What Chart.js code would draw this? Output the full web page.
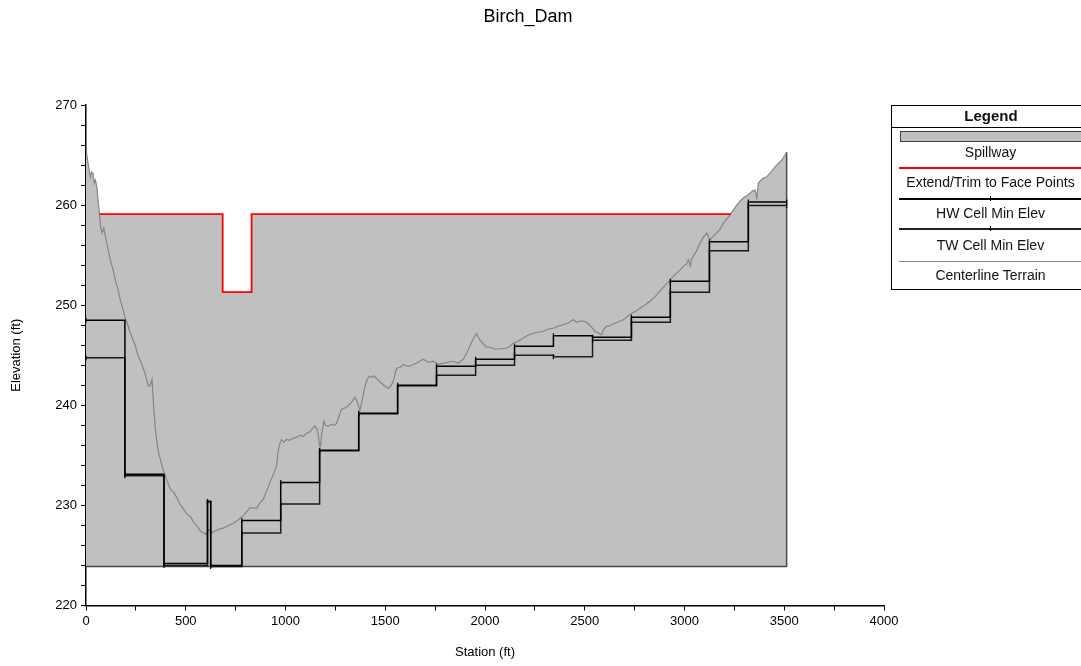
<!DOCTYPE html>
<html>
<head>
<meta charset="utf-8">
<script src="https://cdn.jsdelivr.net/npm/chart.js@4.4.1/dist/chart.umd.min.js"></script>
<style>
  html, body { margin: 0; padding: 0; background: #fff; overflow: hidden; }
  body { width: 1081px; height: 666px; position: relative; font-family: "Liberation Sans", Arial, sans-serif; }
  #c { position: absolute; left: 0; top: 0; }
  #title { position: absolute; left: 0; width: 1056px; top: 6px; text-align: center; font-size: 18px; color: #000; }
  #legend { position: absolute; left: 891px; top: 105px; width: 200px; height: 185px; border: 1px solid #000; box-sizing: border-box; background: #fff; color: #111; }
  #legend .hdr { position: absolute; left: 0; right: 0; top: 0; height: 21px; border-bottom: 1px solid #000; text-align: center; font-weight: bold; font-size: 15px; line-height: 20px; }
  #legend .txt { position: absolute; left: -20px; width: 237px; text-align: center; font-size: 14px; line-height: 16px; white-space: nowrap; }
  #legend .ln { position: absolute; left: 7px; right: -10px; }
  #legend .tick { position: absolute; left: 98px; width: 1px; height: 5px; background: #000; }
</style>
</head>
<body>
<canvas id="c" width="1081" height="666"></canvas>
<div id="title">Birch_Dam</div>
<div id="legend">
  <div class="hdr">Legend</div>
  <div class="ln" style="top:25px;height:9px;background:#c0c0c0;border:1.5px solid #404040;left:8px;"></div>
  <div class="txt" style="top:38px;">Spillway</div>
  <div class="ln" style="top:61px;height:2px;background:#ff0000;"></div>
  <div class="txt" style="top:68px;">Extend/Trim to Face Points</div>
  <div class="ln" style="top:92px;height:1.5px;background:#000;"></div>
  <div class="tick" style="top:90px;"></div>
  <div class="txt" style="top:99px;">HW Cell Min Elev</div>
  <div class="ln" style="top:122px;height:1.5px;background:#222;"></div>
  <div class="tick" style="top:120px;"></div>
  <div class="txt" style="top:131px;">TW Cell Min Elev</div>
  <div class="ln" style="top:155px;height:1px;background:#888;"></div>
  <div class="txt" style="top:161px;">Centerline Terrain</div>
</div>
<script>
// ---------- DATA ----------
const xTicksMajor = [0, 500, 1000, 1500, 2000, 2500, 3000, 3500, 4000];
const yTicksMajor = [220, 230, 240, 250, 260, 270];

// Centerline terrain (station ft, elevation ft)
const terrainX = [0,2,8,15,22,28,35,41,47,55,60,64,72,80,89,97,110,122,135,147,160,172,185,197,210,222,235,248,260,273,285,298,306,314,322,331,339,348,356,364,378,390,405,423,440,456,472,490,507,523,540,557,575,590,600,615,628,640,665,690,715,741,760,774,790,807,821,841,855,866,888,905,921,938,955,963,972,980,992,1005,1020,1038,1055,1072,1090,1105,1118,1130,1147,1156,1164,1170,1175,1182,1192,1200,1214,1230,1245,1256,1270,1281,1295,1314,1330,1348,1358,1373,1385,1398,1410,1420,1432,1443,1460,1481,1500,1515,1528,1540,1550,1557,1575,1590,1615,1640,1665,1690,1715,1740,1765,1790,1815,1840,1865,1891,1908,1924,1940,1958,1975,1991,2008,2025,2050,2075,2108,2125,2141,2165,2191,2215,2242,2265,2292,2315,2342,2365,2392,2415,2442,2460,2476,2495,2510,2530,2551,2570,2585,2595,2610,2625,2643,2665,2693,2715,2735,2755,2777,2800,2827,2850,2877,2900,2927,2950,2977,3000,3010,3019,3029,3035,3044,3060,3078,3095,3111,3120,3128,3140,3161,3178,3195,3212,3228,3245,3262,3278,3295,3310,3328,3340,3354,3362,3370,3395,3410,3429,3445,3462,3487,3504,3512];
const terrainY = [265.6,265.3,264.5,263.6,262.8,263.3,263.2,262.2,262.5,261.8,260.5,259.85,258.0,257.2,257.7,256.9,255.6,254.5,253.6,252.5,251.6,250.5,249.6,248.7,248.0,247.2,246.6,245.9,245.0,244.4,243.8,243.05,242.4,241.9,242.0,242.6,239.9,237.6,236.3,235.2,234.2,233.4,232.5,231.6,231.3,230.75,230.1,229.6,229.1,228.9,228.3,227.9,227.4,227.25,227.1,227.6,227.2,227.4,227.6,227.75,228.0,228.25,228.5,228.75,229.0,229.4,229.75,229.75,229.7,230.1,230.6,231.4,232.25,233.0,233.9,235.4,236.2,236.6,236.3,236.6,236.5,236.7,236.8,237.0,236.9,237.2,237.3,237.55,237.95,237.7,237.1,236.0,235.9,237.2,238.4,238.0,237.9,238.1,238.0,238.2,239.0,239.6,239.7,239.95,240.3,240.8,240.4,239.5,240.6,241.9,242.6,242.9,242.8,242.95,242.6,242.2,241.9,241.7,241.9,242.4,243.2,243.7,243.8,244.05,243.9,244.05,244.3,244.6,244.3,244.4,244.1,244.2,244.3,244.4,244.2,244.6,245.2,245.9,246.6,247.15,246.5,246.15,245.8,245.8,245.6,245.65,245.7,245.9,246.2,246.4,246.7,247.0,247.2,247.3,247.4,247.6,247.7,247.9,248.05,248.2,248.55,248.3,248.4,248.4,248.3,247.9,247.4,247.2,247.05,247.6,247.9,247.9,248.15,248.3,248.55,248.9,249.2,249.4,249.7,250.0,250.4,250.8,251.4,251.9,252.5,253.0,253.5,254.0,254.1,254.55,253.9,254.6,254.9,255.4,256.2,256.8,257.2,256.9,256.5,256.8,257.2,257.6,258.2,258.6,259.0,259.5,260.0,260.4,260.7,260.9,261.2,261.4,261.5,260.7,262.2,262.7,262.8,263.2,263.6,264.0,264.5,265.0,265.3];

// Spillway top profile and base
const spillX = [0,2,8,15,22,28,35,41,47,55,60,64,69,685,685,830,830,3232,3245,3262,3278,3295,3310,3328,3340,3354,3362,3370,3395,3410,3429,3445,3462,3487,3504,3512];
const spillY = [265.6,265.3,264.5,263.6,262.8,263.3,263.2,262.2,262.5,261.8,260.5,259.85,259.1,259.1,251.3,251.3,259.1,259.1,259.5,260.0,260.4,260.7,260.9,261.2,261.4,261.5,260.7,262.2,262.7,262.8,263.2,263.6,264.0,264.5,265.0,265.3];
const spillBase = 223.9;
const spillEnd = 3512;

// Extend/Trim to Face Points
const faceX = [69, 685, 685, 830, 830, 3232];
const faceY = [259.1, 259.1, 251.3, 251.3, 259.1, 259.1];

// Cell faces (station ft) and cell minimum elevations
const cellEdges = [0,195,391,609,625,781,976,1171,1367,1562,1757,1953,2148,2343,2539,2734,2929,3125,3320,3512];
const hwElev = [248.5,233.1,224.2,230.4,224.0,228.5,232.3,235.5,239.2,242.0,243.9,244.6,245.9,246.95,246.8,248.8,252.4,256.35,260.3];
const twElev = [244.75,232.95,224.0,230.4,223.9,227.25,230.15,235.45,239.15,241.95,243.0,244.0,245.0,244.85,246.5,248.3,251.3,255.45,259.95];

// ---------- BUILD ----------
const zip = (xs, ys) => xs.map((x, i) => ({ x: x, y: ys[i] }));
// point at each cell's left face with the cell value, plus closing point at last face
const steps = (vals) => {
  const pts = cellEdges.slice(0, -1).map((x, i) => ({ x: x, y: vals[i] }));
  pts.push({ x: cellEdges[cellEdges.length - 1], y: vals[vals.length - 1] });
  return pts;
};

const FONT = { family: '"Liberation Sans", Arial, sans-serif', size: 13 };

new Chart(document.getElementById('c'), {
  type: 'line',
  data: {
    datasets: [
      {
        label: 'Spillway',
        data: zip(spillX, spillY),
        borderColor: 'rgba(0,0,0,0)',
        borderWidth: 1,
        backgroundColor: '#c0c0c0',
        fill: { value: spillBase },
        pointRadius: 0,
        order: 10
      },
      {
        label: 'Spillway outline',
        data: [{ x: 0, y: spillBase }, { x: spillEnd, y: spillBase }, { x: spillEnd, y: spillY[spillY.length - 1] }],
        borderColor: '#4a4a4a',
        borderWidth: 1.5,
        fill: false,
        pointRadius: 0,
        order: 9
      },
      {
        label: 'Centerline Terrain',
        data: zip(terrainX, terrainY),
        borderColor: '#858585',
        borderWidth: 1.2,
        fill: false,
        pointRadius: 0,
        order: 5
      },
      {
        label: 'TW Cell Min Elev',
        data: steps(twElev),
        stepped: 'before',
        borderColor: '#1a1a1a',
        borderWidth: 1.5,
        fill: false,
        pointStyle: 'line',
        rotation: 90,
        pointRadius: 2.5,
        pointBorderWidth: 1.2,
        pointBorderColor: '#000',
        order: 4
      },
      {
        label: 'HW Cell Min Elev',
        data: steps(hwElev),
        stepped: 'before',
        borderColor: '#000',
        borderWidth: 1.5,
        fill: false,
        pointStyle: 'line',
        rotation: 90,
        pointRadius: 2.5,
        pointBorderWidth: 1.2,
        pointBorderColor: '#000',
        order: 3
      },
      {
        label: 'Extend/Trim to Face Points',
        data: zip(faceX, faceY),
        borderColor: '#ff0000',
        borderWidth: 1.8,
        fill: false,
        pointRadius: 0,
        order: 1
      }
    ]
  },
  options: {
    responsive: false,
    animation: false,
    layout: { padding: { left: 0, right: 197, top: 105, bottom: 0 } },
    plugins: { legend: { display: false }, tooltip: { enabled: false }, title: { display: false } },
    elements: { line: { tension: 0 } },
    scales: {
      x: {
        type: 'linear',
        min: 0, max: 4000,
        afterFit: (s) => { s.height = 60.5; s.paddingLeft = 0; s.paddingRight = 0; },
        afterBuildTicks: (s) => { const t = []; for (let v = 0; v <= 4000; v += 250) t.push({ value: v }); s.ticks = t; },
        ticks: {
          autoSkip: false, maxRotation: 0, padding: 3, color: '#000', font: FONT,
          callback: (v) => (xTicksMajor.includes(v) ? String(v) : '')
        },
        grid: { drawOnChartArea: false, drawTicks: true, tickLength: 5, color: '#000', lineWidth: 1 },
        border: { display: true, color: '#000', width: 1.5 },
        title: { display: true, text: 'Station (ft)', color: '#000', font: FONT, padding: { top: 0, bottom: 6 } }
      },
      y: {
        type: 'linear',
        min: 220, max: 270,
        afterFit: (s) => { s.width = 86; s.paddingTop = 0; s.paddingBottom = 0; },
        afterBuildTicks: (s) => { const t = []; for (let v = 220; v <= 270; v += 2) t.push({ value: v }); s.ticks = t; },
        ticks: {
          autoSkip: false, padding: 4, color: '#000', font: FONT,
          callback: (v) => (yTicksMajor.includes(v) ? String(v) : '')
        },
        grid: { drawOnChartArea: false, drawTicks: true, tickLength: 5, color: '#000', lineWidth: 1 },
        border: { display: true, color: '#000', width: 1.5 },
        title: { display: true, text: 'Elevation (ft)', color: '#000', font: FONT, padding: { top: 9, bottom: 0 } }
      }
    }
  }
});
</script>
</body>
</html>
